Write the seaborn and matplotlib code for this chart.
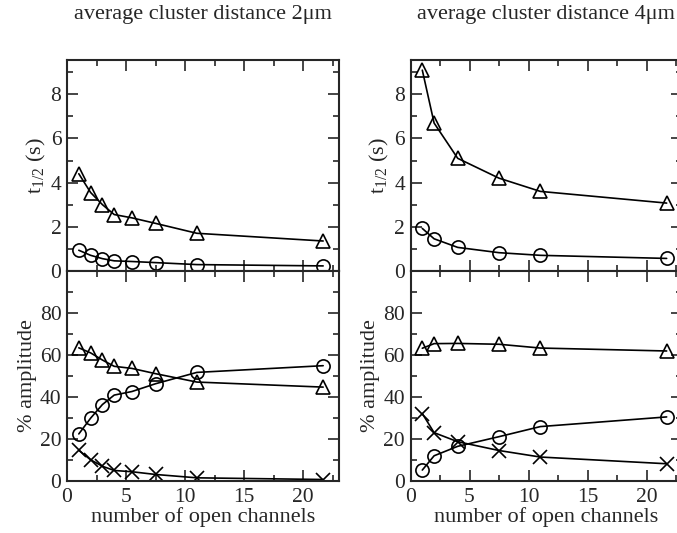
import numpy as np
import matplotlib
matplotlib.use('Agg')
import matplotlib.pyplot as plt
import seaborn as sns
from matplotlib.ticker import MultipleLocator

# Données
x_2um = [1, 2, 3, 4, 5.5, 7.5, 11, 21.7]
t_slow_2um = [4.4, 3.55, 3.0, 2.55, 2.4, 2.15, 1.7, 1.35]
t_fast_2um = [0.93, 0.7, 0.55, 0.45, 0.42, 0.37, 0.28, 0.22]
amp_slow_2um = [63.3, 60.9, 57.5, 54.5, 53.5, 51.0, 47.0, 44.6]
amp_fast_2um = [22.3, 29.8, 36.3, 40.8, 42.5, 46.2, 51.6, 54.8]
amp_cross_2um = [14.5, 10.0, 6.9, 4.9, 4.3, 3.0, 1.4, 0.6]

x_4um = [1, 2, 4, 7.5, 11, 21.7]
t_slow_4um = [9.1, 6.7, 5.1, 4.2, 3.6, 3.07]
t_fast_4um = [1.92, 1.45, 1.06, 0.82, 0.7, 0.56]
amp_slow_4um = [63.1, 65.3, 65.4, 65.0, 63.2, 61.8]
amp_fast_4um = [5.1, 11.9, 16.4, 21.0, 25.8, 30.4]
amp_cross_4um = [32.0, 22.9, 18.6, 14.4, 11.3, 8.1]

titles = ['average cluster distance 2\u03bcm', 'average cluster distance 4\u03bcm']

sns.set_style('ticks')
plt.rcParams['font.family'] = ['Liberation Serif', 'DejaVu Serif']
plt.rcParams['mathtext.fontset'] = 'custom'
plt.rcParams['mathtext.rm'] = 'Liberation Serif'
plt.rcParams['mathtext.it'] = 'Liberation Serif:italic'
plt.rcParams['mathtext.default'] = 'regular'

fig = plt.figure(figsize=(6.77, 5.33), dpi=100)

lefts = [67 / 677, 410.5 / 677]
width = 271.5 / 677
ax_top = [fig.add_axes([l, 0.492, width, 0.395]) for l in lefts]
ax_bot = [fig.add_axes([l, 0.098, width, 0.394]) for l in lefts]

style = dict(color='black', linewidth=1.2, markersize=9.5, markerfacecolor='none',
             markeredgecolor='black', markeredgewidth=1.2)


def draw(ax, x, y, marker):
    sns.lineplot(x=x, y=y, ax=ax, marker=marker, sort=False, **style)


data = [
    (x_2um, t_slow_2um, t_fast_2um, amp_slow_2um, amp_fast_2um, amp_cross_2um),
    (x_4um, t_slow_4um, t_fast_4um, amp_slow_4um, amp_fast_4um, amp_cross_4um),
]

for i, (x, ts, tf, aslow, afast, across) in enumerate(data):
    at, ab = ax_top[i], ax_bot[i]
    draw(at, x, ts, '^')
    draw(at, x, tf, 'o')
    draw(ab, x, aslow, '^')
    draw(ab, x, afast, 'o')
    draw(ab, x, across, 'x')

    for ax in (at, ab):
        ax.set_xlim(0, 23)
        ax.xaxis.set_major_locator(MultipleLocator(5))
        ax.xaxis.set_minor_locator(MultipleLocator(2.5))
        ax.tick_params(which='both', direction='in', top=True, right=True,
                       labelsize=15.5, width=1.2)
        ax.tick_params(axis='x', pad=5)
        ax.tick_params(axis='y', pad=4)
        ax.tick_params(which='major', length=8)
        ax.tick_params(which='minor', length=4.5)
        for s in ax.spines.values():
            s.set_linewidth(1.5)
        ax.set_xlabel('')

    at.set_ylim(0, 9.55)
    at.yaxis.set_major_locator(MultipleLocator(2))
    at.yaxis.set_minor_locator(MultipleLocator(1))
    at.tick_params(labelbottom=False)
    at.set_ylabel('t$_{1/2}$ (s)', fontsize=16, labelpad=2)

    ab.set_ylim(0, 100)
    ab.set_yticks([0, 20, 40, 60, 80])
    ab.yaxis.set_minor_locator(MultipleLocator(10))
    ab.set_ylabel('% amplitude', fontsize=16, labelpad=2)
    ab.set_xlabel('number of open channels', fontsize=16, labelpad=0)

    fig.text(lefts[i] + width / 2, 1 - 14 / 533, titles[i],
             ha='center', va='center', fontsize=16)

fig.savefig('out.png', dpi=100)
